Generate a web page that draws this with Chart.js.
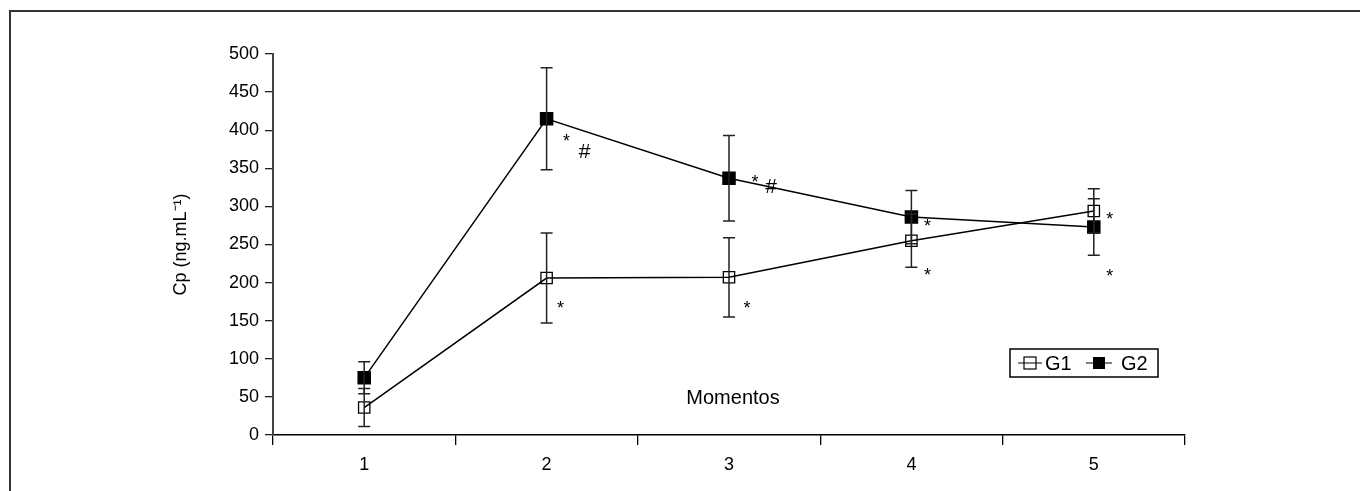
<!DOCTYPE html>
<html lang="pt">
<head>
    <title>Cp por momento</title>
    <script src="https://cdn.jsdelivr.net/npm/chart.js"></script>
    <style>
        body { margin: 0; background: #fff; }
        #wrap { width: 1360px; height: 491px; position: relative; }
    </style>
</head>
<body>
    <div id="wrap"><canvas id="cpChart"></canvas></div>

    <script>
        // dados
        var momentos = ['1', '2', '3', '4', '5'];
        var g1Media = [36, 206, 207, 255, 294];
        var g1Erro = [25, 59, 52, 35, 29];
        var g2Media = [75, 415, 337, 286, 273];
        var g2Erro = [21, 67, 56, 35, 37];
        var g1Marcas = ['', '*', '*', '*', '*'];
        var g2Marcas = ['', '*', '*', '*', '*'];
        var g2Cerquilha = ['', '#', '#', '', ''];
        var yMin = 0, yMax = 500, yPasso = 50;

        var fonte = '"Liberation Sans", Arial, sans-serif';

        // deslocamentos (px) dos símbolos em relação a cada ponto
        var offG1 = [null, [14, 31], [18, 32], [16, 35], [16, 9]];
        var offG2 = [null, [20, 23], [26, 5], [16, 10], [16, 50]];
        var offHash = [null, [38, 33], [42, 9], null, null];

        var extras = {
            id: 'extras',
            beforeDraw: function(chart) {
                var c = chart.ctx;
                c.save();
                c.strokeStyle = '#333';
                c.lineWidth = 2;
                c.beginPath();
                c.moveTo(10, 491);
                c.lineTo(10, 11);
                c.lineTo(1360, 11);
                c.stroke();
                c.restore();
            },
            afterDatasetsDraw: function(chart) {
                var c = chart.ctx;
                var xs = chart.scales.x, ys = chart.scales.y;
                var area = chart.chartArea;
                c.save();
                // barras de erro
                c.strokeStyle = '#222';
                c.lineWidth = 1.5;
                [[g1Media, g1Erro], [g2Media, g2Erro]].forEach(function(s) {
                    for (var i = 0; i < momentos.length; i++) {
                        var x = xs.getPixelForValue(i);
                        var yt = ys.getPixelForValue(s[0][i] + s[1][i]);
                        var yb = ys.getPixelForValue(s[0][i] - s[1][i]);
                        c.beginPath();
                        c.moveTo(x, yt); c.lineTo(x, yb);
                        c.moveTo(x - 6, yt); c.lineTo(x + 6, yt);
                        c.moveTo(x - 6, yb); c.lineTo(x + 6, yb);
                        c.stroke();
                    }
                });
                // símbolos de significância
                c.fillStyle = '#000';
                c.textAlign = 'center';
                c.textBaseline = 'middle';
                for (var i = 0; i < momentos.length; i++) {
                    var x = xs.getPixelForValue(i);
                    c.font = '18px ' + fonte;
                    if (g1Marcas[i]) c.fillText(g1Marcas[i], x + offG1[i][0], ys.getPixelForValue(g1Media[i]) + offG1[i][1]);
                    if (g2Marcas[i]) c.fillText(g2Marcas[i], x + offG2[i][0], ys.getPixelForValue(g2Media[i]) + offG2[i][1]);
                    c.font = '21px ' + fonte;
                    if (g2Cerquilha[i]) c.fillText(g2Cerquilha[i], x + offHash[i][0], ys.getPixelForValue(g2Media[i]) + offHash[i][1]);
                }
                // título do eixo x (dentro da área)
                c.font = '20px ' + fonte;
                c.fillText('Momentos', (area.left + area.right) / 2 + 4, area.bottom - 37);
                // título do eixo y
                c.save();
                c.translate(area.left - 92, (area.top + area.bottom) / 2);
                c.rotate(-Math.PI / 2);
                c.font = '18px ' + fonte;
                c.fillText('Cp (ng.mL\u207B\u00B9)', 0, 0);
                c.restore();
                // legenda
                var bx = area.right - 175, by = area.bottom - 86, bw = 148, bh = 28;
                c.fillStyle = '#fff';
                c.fillRect(bx, by, bw, bh);
                c.strokeStyle = '#000';
                c.lineWidth = 1.5;
                c.strokeRect(bx, by, bw, bh);
                var cy = by + bh / 2;
                c.lineWidth = 1.2;
                c.beginPath();
                c.moveTo(bx + 8, cy); c.lineTo(bx + 32, cy);
                c.moveTo(bx + 76, cy); c.lineTo(bx + 102, cy);
                c.stroke();
                c.strokeRect(bx + 14, cy - 6, 12, 12);
                c.fillStyle = '#000';
                c.fillRect(bx + 83, cy - 6, 12, 12);
                c.font = '20px ' + fonte;
                c.textAlign = 'left';
                c.fillText('G1', bx + 35, cy + 1);
                c.fillText('G2', bx + 111, cy + 1);
                c.restore();
            }
        };

        var ctx = document.getElementById('cpChart').getContext('2d');
        var myChart = new Chart(ctx, {
            type: 'line',
            data: {
                labels: momentos,
                datasets: [{
                    label: 'G1',
                    data: g1Media,
                    borderColor: '#000',
                    borderWidth: 1.5,
                    backgroundColor: 'rgba(0,0,0,0)',
                    pointStyle: 'rect',
                    pointRadius: 8,
                    pointBorderWidth: 1.3,
                    pointBorderColor: '#000',
                    pointBackgroundColor: 'rgba(0,0,0,0)',
                    tension: 0
                }, {
                    label: 'G2',
                    data: g2Media,
                    borderColor: '#000',
                    borderWidth: 1.5,
                    backgroundColor: '#000',
                    pointStyle: 'rect',
                    pointRadius: 8.5,
                    pointBorderColor: '#000',
                    pointBackgroundColor: '#000',
                    tension: 0
                }]
            },
            options: {
                responsive: true,
                maintainAspectRatio: false,
                animation: false,
                layout: { padding: { left: 0, right: 175, top: 54, bottom: 0 } },
                plugins: { legend: { display: false }, tooltip: { enabled: false } },
                scales: {
                    x: {
                        offset: true,
                        grid: { offset: true, drawOnChartArea: false, color: '#000', tickLength: 10, lineWidth: 1.3 },
                        border: { color: '#000', width: 1.5 },
                        ticks: { color: '#000', padding: 9, font: { family: fonte, size: 18 } },
                        afterFit: function(s) { s.height = 56; }
                    },
                    y: {
                        min: yMin,
                        max: yMax,
                        grid: { drawOnChartArea: false, color: '#222', tickLength: 8, lineWidth: 1.3 },
                        border: { color: '#444', width: 2 },
                        ticks: { stepSize: yPasso, color: '#000', padding: 6, font: { family: fonte, size: 18 } },
                        afterFit: function(s) { s.width = 273; }
                    }
                }
            },
            plugins: [extras]
        });
    </script>
</body>
</html>
